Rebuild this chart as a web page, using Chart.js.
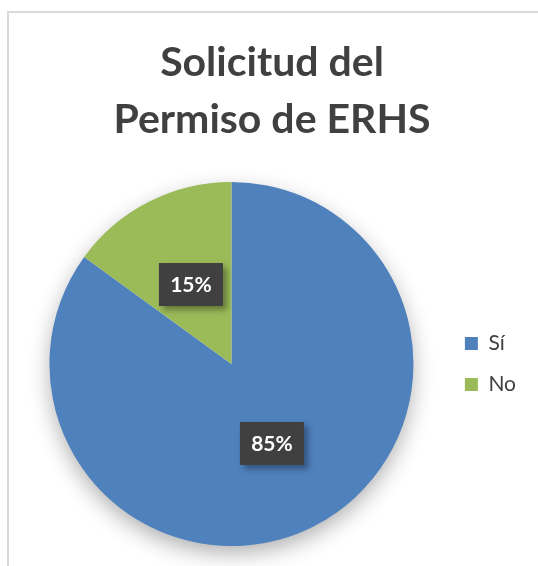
<!DOCTYPE html>
<html>
<head>
<meta charset="utf-8">
<script src="https://cdn.jsdelivr.net/npm/chart.js@4"></script>
<style>
  html, body { margin:0; padding:0; background:#fff; }
  #wrap { position:relative; width:538px; height:566px; overflow:hidden; }
  #frame { position:absolute; left:7px; top:11px; width:600px; height:600px; border:2px solid #d9d9d9; box-sizing:border-box; }
  canvas { position:absolute; left:0; top:0; }
</style>
</head>
<body>
<div id="wrap">
  <div id="frame"></div>
  <canvas id="pieChart" width="538" height="566"></canvas>
</div>
<script>
// chart data
const categories = ['Sí', 'No'];
const values = [85, 15];
const sliceColors = ['#4F81BD', '#9BBB59'];
const titleLines = ['Solicitud del', 'Permiso de ERHS'];

// soft shadow under the pie, drawn from the arc geometry chart.js computed
const pieShadow = {
  id: 'pieShadow',
  beforeDatasetsDraw(chart){
    const arc = chart.getDatasetMeta(0).data[0];
    if(!arc) return;
    const ctx = chart.ctx;
    ctx.save();
    ctx.shadowColor = 'rgba(0,0,0,0.32)';
    ctx.shadowBlur = 22;
    ctx.shadowOffsetY = 8;
    ctx.fillStyle = '#fff';
    ctx.beginPath();
    ctx.arc(arc.x, arc.y, arc.outerRadius - 1, 0, Math.PI*2);
    ctx.fill();
    ctx.restore();
  }
};

// dark boxed percent labels
const boxLabels = {
  id: 'boxLabels',
  afterDatasetsDraw(chart){
    const ctx = chart.ctx;
    const total = values.reduce((s, v) => s + v, 0);
    chart.getDatasetMeta(0).data.forEach((arc, i) => {
      const mid = (arc.startAngle + arc.endAngle) / 2;
      const r = arc.outerRadius * 0.49;
      const x = arc.x + Math.cos(mid) * r;
      const y = arc.y + Math.sin(mid) * r;
      const txt = Math.round(values[i] / total * 100) + '%';
      const w = 64, h = 43;
      ctx.save();
      ctx.shadowColor = 'rgba(0,0,0,0.35)';
      ctx.shadowBlur = 6;
      ctx.shadowOffsetX = 4;
      ctx.shadowOffsetY = 4;
      ctx.fillStyle = '#404040';
      ctx.fillRect(x - w/2, y - h/2, w, h);
      ctx.restore();
      ctx.save();
      ctx.fillStyle = '#fff';
      ctx.font = 'bold 21px Lato';
      ctx.textAlign = 'center';
      ctx.textBaseline = 'middle';
      ctx.fillText(txt, x, y + 1);
      ctx.restore();
    });
  }
};

new Chart(document.getElementById('pieChart'), {
  type: 'pie',
  data: {
    labels: categories,
    datasets: [{ data: values, backgroundColor: sliceColors, borderWidth: 0 }]
  },
  options: {
    responsive: false,
    animation: false,
    layout: { padding: { top: 0, left: 18, right: 12, bottom: 20 } },
    plugins: {
      title: {
        display: true,
        text: titleLines,
        color: '#404040',
        font: { family: 'Lato', size: 41, weight: 'bold', lineHeight: 1.39 },
        padding: { top: 34, bottom: 34 }
      },
      legend: {
        position: 'right',
        fullSize: false,
        labels: {
          color: '#404040',
          font: { family: 'Lato', size: 21 },
          boxWidth: 13,
          boxHeight: 13,
          padding: 20
        }
      },
      tooltip: { enabled: false }
    }
  },
  plugins: [pieShadow, boxLabels]
});
</script>
</body>
</html>
